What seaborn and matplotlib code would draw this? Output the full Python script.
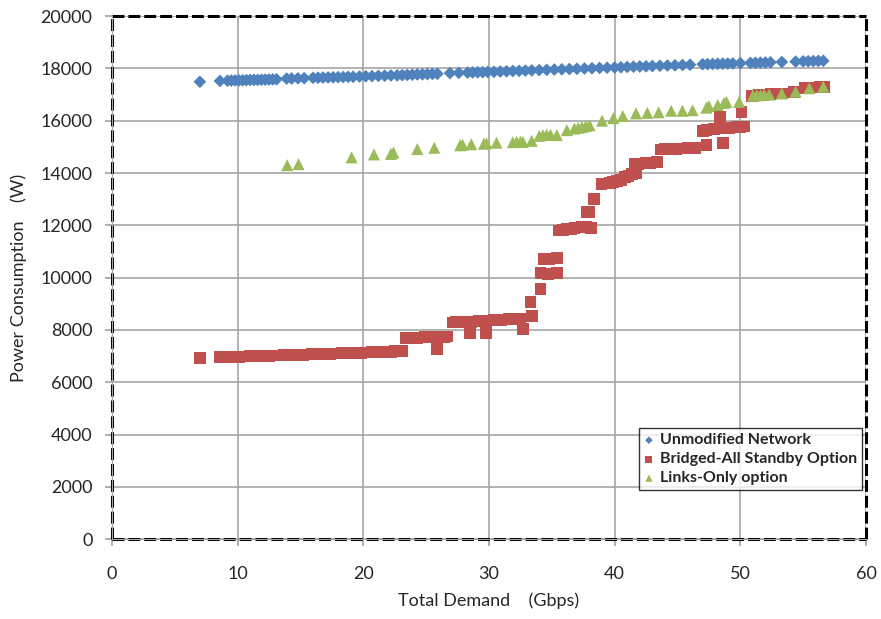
import numpy as np
import pandas as pd
import matplotlib
matplotlib.use("Agg")
import matplotlib.pyplot as plt
import seaborn as sns

blue_x = [7.0, 8.6, 9.2, 9.5, 9.8, 10.1, 10.4, 10.7, 11.0, 11.3, 11.6, 11.9, 12.2, 12.5, 12.8, 13.1,
          13.9, 14.3, 14.8, 15.3, 16.0, 16.4, 16.8, 17.2, 17.6, 18.0, 18.4, 18.8, 19.2, 19.7, 20.2,
          20.7, 21.2, 21.7, 22.2, 22.7, 23.1, 23.5, 23.9, 24.3, 24.7, 25.1, 25.5, 25.9, 26.9, 27.6,
          28.3, 28.7, 29.1, 29.5, 29.9, 30.4, 30.9, 31.4, 31.9, 32.4, 32.9, 33.4, 34.0, 34.6, 35.2,
          35.8, 36.4, 37.0, 37.6, 38.2, 38.8, 39.4, 40.0, 40.5, 41.0, 41.5, 42.0, 42.5, 43.0, 43.6,
          44.2, 44.8, 45.4, 46.0, 47.0, 47.4, 47.8, 48.2, 48.6, 49.0, 49.4, 50.0, 50.8, 51.2, 51.6,
          52.0, 52.4, 53.3, 54.4, 55.0, 55.4, 55.8, 56.2, 56.6]
blue_y = [17490, 17520, 17530, 17535, 17540, 17540, 17545, 17550, 17555, 17560, 17560, 17565, 17570,
          17575, 17580, 17585, 17610, 17615, 17620, 17625, 17640, 17645, 17650, 17655, 17660, 17665,
          17670, 17675, 17680, 17690, 17700, 17705, 17715, 17720, 17730, 17735, 17745, 17750, 17760,
          17770, 17775, 17780, 17790, 17795, 17820, 17830, 17840, 17845, 17850, 17855, 17865, 17870,
          17880, 17890, 17900, 17905, 17915, 17925, 17935, 17945, 17955, 17965, 17975, 17985, 17995,
          18005, 18015, 18025, 18035, 18045, 18055, 18065, 18075, 18080, 18090, 18100, 18110, 18120,
          18130, 18140, 18160, 18165, 18170, 18175, 18180, 18185, 18190, 18200, 18210, 18215, 18220,
          18225, 18230, 18245, 18260, 18270, 18275, 18280, 18285, 18290]

red_x = [7.0, 8.6, 8.9, 9.2, 9.5, 9.8, 10.1, 10.4, 10.7, 11.0, 11.3, 11.6, 11.9, 12.2, 12.5, 12.8, 13.1,
         13.7, 14.0, 14.3, 14.6, 14.9, 15.2, 15.9, 16.2, 16.5, 16.8, 17.1, 17.4, 17.7, 18.0, 18.3,
         18.6, 18.9, 19.2, 19.5, 19.8, 20.1, 20.4, 20.7, 21.0, 21.3, 21.6, 21.9, 22.2, 22.5, 22.8, 23.1,
         23.4, 23.7, 24.0, 24.3, 24.6, 24.9, 25.2, 25.5, 25.8, 26.1, 26.4, 26.7, 25.85,
         27.1, 27.4, 27.7, 28.0, 28.3, 28.6, 28.9, 29.2, 29.5, 29.8, 30.1, 30.4, 30.7, 31.0, 31.3,
         31.6, 31.9, 32.2, 32.5, 28.5, 29.75, 32.7,
         33.4, 33.3, 34.1, 34.1, 34.7, 35.4, 34.4, 34.8, 35.4,
         35.6, 35.9, 36.2, 36.5, 36.8, 37.1, 37.4, 37.7, 38.1, 37.8, 38.0, 38.35,
         38.95, 39.3, 39.6, 39.9, 40.2, 40.5, 40.8, 41.1, 41.4, 41.7,
         41.6, 41.9, 42.2, 42.5, 42.8, 43.1, 43.4,
         43.7, 44.0, 44.3, 44.6, 44.9, 45.2, 45.5, 45.8, 46.1, 46.4, 47.3, 48.6,
         47.0, 47.3, 47.6, 47.9, 48.2, 48.5, 48.8, 49.1, 49.4, 49.7, 50.0, 50.3, 48.4, 50.1,
         50.9, 51.2, 51.5, 51.8, 52.1, 52.4, 53.3, 54.3, 55.1, 55.5, 55.9, 56.3, 56.7]
red_y = [6930, 6950, 6955, 6960, 6965, 6970, 6975, 6980, 6985, 6990, 6995, 7000, 7005, 7010, 7015, 7020,
         7025, 7030, 7035, 7040, 7045, 7050, 7055, 7065, 7070, 7075, 7080, 7085, 7090, 7095, 7100,
         7105, 7110, 7115, 7120, 7125, 7130, 7135, 7140, 7145, 7150, 7155, 7160, 7165, 7170, 7180,
         7190, 7200,
         7680, 7690, 7700, 7705, 7710, 7715, 7720, 7725, 7730, 7735, 7740, 7750, 7260,
         8280, 8290, 8300, 8305, 8310, 8315, 8320, 8330, 8340, 8350, 8360, 8370, 8380, 8390, 8400,
         8410, 8420, 8430, 8440, 7880, 7880, 8030,
         8530, 9075, 9570, 10180, 10150, 10170, 10700, 10700, 10740,
         11800, 11830, 11850, 11870, 11900, 11920, 11940, 11930, 11900, 12500, 12520, 13000,
         13580, 13600, 13620, 13650, 13680, 13720, 13850, 13900, 13950, 14000,
         14330, 14350, 14360, 14370, 14390, 14400, 14420,
         14900, 14910, 14920, 14920, 14930, 14940, 14940, 14950, 14950, 14960, 15070, 15150,
         15600, 15640, 15660, 15680, 15700, 15710, 15720, 15730, 15740, 15750, 15760, 15780, 16140, 16330,
         16950, 16960, 16980, 16990, 17000, 17010, 17040, 17100, 17240, 17260, 17270, 17280, 17290]

green_x = [13.95, 14.85, 19.07, 20.85, 22.2, 22.4, 24.3, 25.65, 27.7, 27.9, 28.6, 29.6, 29.8, 30.6,
           31.9, 32.2, 32.5, 32.7, 33.4, 34.0, 34.3, 34.6, 34.9, 35.4, 36.2, 36.8, 37.1, 37.4, 37.7,
           38.0, 39.0, 39.9, 40.65, 41.7, 42.6, 43.5, 44.5, 45.4, 46.2, 47.3, 47.5, 48.2, 48.7, 48.9,
           49.9, 51.0, 51.3, 51.6, 51.9, 52.3, 53.3, 54.4, 55.5, 56.6]
green_y = [14300, 14340, 14600, 14710, 14730, 14780, 14915, 14965, 15060, 15080, 15100, 15120, 15140,
           15160, 15180, 15190, 15200, 15190, 15230, 15420, 15450, 15470, 15460, 15450, 15640, 15700,
           15730, 15760, 15790, 15830, 16000, 16100, 16180, 16280, 16300, 16320, 16380, 16380, 16400,
           16500, 16560, 16600, 16680, 16720, 16720, 16960, 16970, 16980, 16990, 17000, 17040, 17110,
           17240, 17300]

series_names = ["Unmodified Network", "Bridged-All Standby Option", "Links-Only option"]
colors = ["#4F81BD", "#C0504D", "#9BBB59"]

sns.set_theme(style="white")
plt.rcParams['font.family'] = ['Lato', 'DejaVu Sans']

fig = plt.figure(figsize=(8.81, 6.19), dpi=100)
ax = fig.add_axes([0.127, 0.129, 0.856, 0.845])

df_b = pd.DataFrame({"x": blue_x, "y": blue_y})
df_r = pd.DataFrame({"x": red_x, "y": red_y})
df_g = pd.DataFrame({"x": green_x, "y": green_y})

sns.scatterplot(data=df_b, x="x", y="y", ax=ax, marker="D", s=42, color=colors[0],
                edgecolor="none", label=series_names[0], zorder=3)
sns.scatterplot(data=df_r, x="x", y="y", ax=ax, marker="s", s=72, color=colors[1],
                edgecolor="none", label=series_names[1], zorder=3)
sns.scatterplot(data=df_g, x="x", y="y", ax=ax, marker="^", s=75, color=colors[2],
                edgecolor="none", label=series_names[2], zorder=4)

ax.set_xlim(0, 60)
ax.set_ylim(0, 20000)
ax.set_xticks(range(0, 61, 10))
ax.set_yticks(range(0, 20001, 2000))
ax.grid(True, color="#a6a6a6", linewidth=1.2)
ax.set_axisbelow(True)
ax.tick_params(axis="both", labelsize=13, length=5, color="#a6a6a6", direction="out",
               bottom=True, left=True)
ax.tick_params(axis="x", pad=14)
ax.tick_params(axis="y", pad=9)
for s in ax.spines.values():
    s.set_color("black")
    s.set_linewidth(2.2)
    s.set_linestyle((0, (3.9, 1.3)))
    s.set_capstyle("butt")
    s.set_zorder(5)
ax.axhline(0, color="#a6a6a6", linewidth=0.8, zorder=6, clip_on=False)
ax.axvline(0, color="#a6a6a6", linewidth=0.8, zorder=6, clip_on=False)

ax.set_xlabel("Total Demand    (Gbps)", fontsize=13, labelpad=8)
ax.set_ylabel("Power Consumption    (W)", fontsize=13, labelpad=10)

leg = ax.legend(loc="lower right", bbox_to_anchor=(0.9947, 0.0937), borderaxespad=0,
                frameon=True, fancybox=False,
                prop={"weight": "bold", "size": 11.5}, handlelength=0.6, handletextpad=0.4,
                borderpad=0.3, labelspacing=0.3, markerscale=0.6)
leg.get_frame().set_edgecolor("black")
leg.get_frame().set_linewidth(1.0)
leg.set_zorder(7)

fig.savefig("out.png", dpi=100)
